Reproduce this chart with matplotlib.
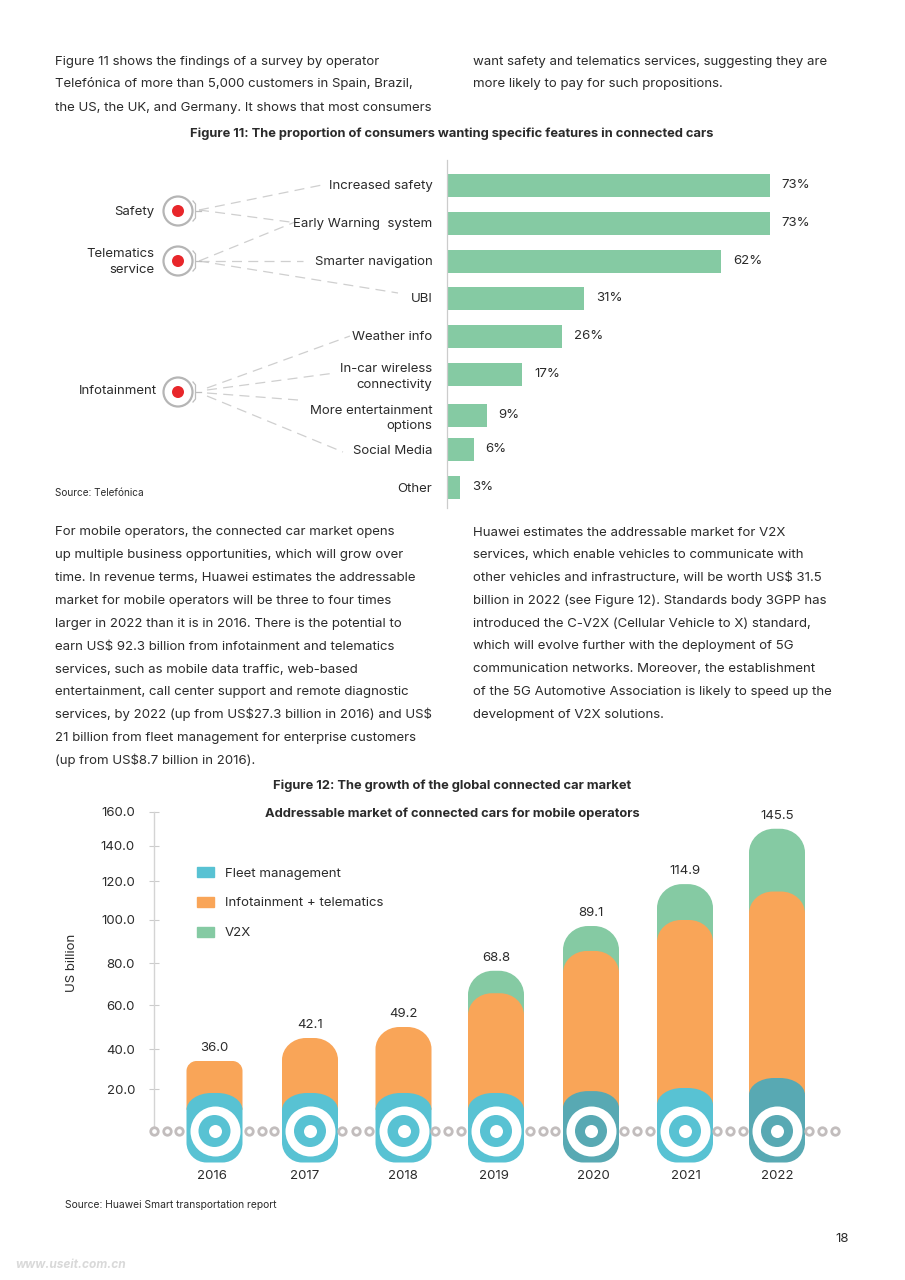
import numpy as np
import matplotlib
matplotlib.use('Agg')
import matplotlib.pyplot as plt
from matplotlib.patches import Circle, Patch, PathPatch
from matplotlib.path import Path

plt.rcParams['font.family'] = ['Inter', 'DejaVu Sans']
plt.rcParams['text.parse_math'] = False

W, H = 905, 1280
INK = '#2b2b2b'
GREEN = '#85CAA3'
ORANGE = '#F9A558'
TEAL = '#58C2D3'
DARK_TEAL = '#58A9B3'

# figure 11 data
features = ['Increased safety', 'Early Warning  system', 'Smarter navigation', 'UBI', 'Weather info',
            'In-car wireless\nconnectivity', 'More entertainment\noptions', 'Social Media', 'Other']
feature_pct = [73, 73, 62, 31, 26, 17, 9, 6, 3]
groups = ['Safety', 'Telematics\nservice', 'Infotainment']

# figure 12 data, segment sizes read against the printed axis
years = ['2016', '2017', '2018', '2019', '2020', '2021', '2022']
totals = [36.0, 42.1, 49.2, 68.8, 89.1, 114.9, 145.5]
fleet = [33.1, 33.1, 33.1, 33.1, 34.0, 35.5, 40.5]
infotainment = [15.9, 26.9, 31.9, 47.5, 66.6, 79.5, 89.1]
v2x = [0, 0, 0, 10.7, 11.6, 18.4, 35.4]
axis_values = [20, 40, 60, 80, 100, 120, 140, 160]

top_left = ['Figure 11 shows the findings of a survey by operator',
            'Telefónica of more than 5,000 customers in Spain, Brazil,',
            'the US, the UK, and Germany. It shows that most consumers']
top_right = ['want safety and telematics services, suggesting they are',
             'more likely to pay for such propositions.']
mid_left = ['For mobile operators, the connected car market opens',
            'up multiple business opportunities, which will grow over',
            'time. In revenue terms, Huawei estimates the addressable',
            'market for mobile operators will be three to four times',
            'larger in 2022 than it is in 2016. There is the potential to',
            'earn US$ 92.3 billion from infotainment and telematics',
            'services, such as mobile data traffic, web-based',
            'entertainment, call center support and remote diagnostic',
            'services, by 2022 (up from US$27.3 billion in 2016) and US$',
            '21 billion from fleet management for enterprise customers',
            '(up from US$8.7 billion in 2016).']
mid_right = ['Huawei estimates the addressable market for V2X',
             'services, which enable vehicles to communicate with',
             'other vehicles and infrastructure, will be worth US$ 31.5',
             'billion in 2022 (see Figure 12). Standards body 3GPP has',
             'introduced the C-V2X (Cellular Vehicle to X) standard,',
             'which will evolve further with the deployment of 5G',
             'communication networks. Moreover, the establishment',
             'of the 5G Automotive Association is likely to speed up the',
             'development of V2X solutions.']

# layout, in page pixels
row_y = [185, 223, 261, 298, 336, 374, 415, 449, 487]
group_y = [211, 261, 392]
group_text_y = [212, 262, 391]
group_text_x = [154, 154, 157]
year_x = [214.5, 310, 403.5, 496, 591, 685, 777]
year_tick_x = [212, 305, 403, 494, 593, 686, 777]
fleet_colors = [TEAL, TEAL, TEAL, TEAL, DARK_TEAL, TEAL, DARK_TEAL]
knot_values = [-20, 0, 20, 40, 60, 80, 100, 120, 140, 160, 175]
knot_pixels = [1173, 1131, 1089, 1049, 1005, 963, 920, 881, 845.5, 812, 786]
dots_x = [154, 166.5, 179, 249, 262, 274, 342, 356, 369, 435, 448, 461, 530, 543, 555,
          624, 637, 650, 717, 730, 743, 809, 822, 835]
leaders = [((199, 210), (322, 185)), ((199, 210), (290, 222)), ((199, 261), (295, 222)),
           ((199, 261), (303, 261)), ((199, 261), (398, 293)), ((207, 388), (350, 336)),
           ((207, 390), (335, 373)), ((207, 393), (298, 400)), ((207, 396), (343, 452))]

BODY = 9.5
BOLD = 9.3
SMALL = 7.2

fig = plt.figure(figsize=(W / 100, H / 100), dpi=100, facecolor='white')


def box(x0, y0, x1, y1):
    # page pixels (y down) to figure fractions
    return [x0 / W, 1 - y1 / H, (x1 - x0) / W, (y1 - y0) / H]


page = fig.add_axes([0, 0, 1, 1], zorder=0)
page.set_xlim(0, W)
page.set_ylim(H, 0)
page.axis('off')


def write(x, y, s, size=BODY, weight='normal', ha='left', color=INK, **kw):
    page.text(x, y + 4.5, s, fontsize=size, fontweight=weight, ha=ha, va='baseline', color=color, **kw)


for lines, x, y0, step in [(top_left, 55, 60, 23), (top_right, 473, 60, 23),
                           (mid_left, 55, 531, 22.85), (mid_right, 473, 531, 22.8)]:
    for i, line in enumerate(lines):
        write(x, y0 + i * step, line)

write(452, 133, 'Figure 11: The proportion of consumers wanting specific features in connected cars',
      size=BOLD, weight='bold', ha='center')
write(452, 784, 'Figure 12: The growth of the global connected car market', size=BOLD, weight='bold', ha='center')
write(55, 491, 'Source: Telefónica', size=SMALL)
write(65, 1203, 'Source: Huawei Smart transportation report', size=SMALL + 0.2)
write(835, 1238, '18')
write(15, 1264, 'www.useit.com.cn', size=8.6, weight='bold', color='#d9d9d9', style='italic')

# figure 11 left hand: leaders, rings and group names
for (a, b) in leaders:
    page.plot([a[0], b[0]], [a[1], b[1]], color='#cfcfcf', lw=0.9, dashes=(8, 5))
for name, y, ty, tx in zip(groups, group_y, group_text_y, group_text_x):
    page.add_patch(Circle((178, y), 14.5, fc='white', ec='#b5b5b5', lw=1.6))
    page.add_patch(Circle((178, y), 6, fc='#E8262A', ec='none'))
    page.plot([193, 195.5, 195.5, 193], [y - 10, y - 7, y + 7, y + 10], color='#bdbdbd', lw=0.9)
    page.plot([196, 201], [y, y], color='#bdbdbd', lw=0.9)
    page.text(tx, ty, name, fontsize=BODY, color=INK, ha='right', va='center', ma='right', linespacing=1.35)

# figure 11 bars
ax1 = fig.add_axes(box(447, 160, 860, 508), zorder=1)
ax1.patch.set_alpha(0)
ax1.set_xlim(0, 413 / 4.42)
ax1.set_ylim(508, 160)
ax1.barh(row_y, feature_pct, height=23, color=GREEN)
for y, v in zip(row_y, feature_pct):
    ax1.annotate(f'{v}%', (v, y), xytext=(8.6, 0), textcoords='offset points', va='center', fontsize=BODY, color=INK)
ax1.set_yticks(row_y, features, fontsize=BODY, color=INK, linespacing=1.35, ma='right')
ax1.tick_params(axis='y', length=0, pad=10.5)
ax1.set_xticks([])
for side in ['top', 'right', 'bottom']:
    ax1.spines[side].set_visible(False)
ax1.spines['left'].set_color('#cccccc')
ax1.spines['left'].set_linewidth(0.9)

# figure 12, the printed axis is not evenly spaced so it gets its own scale
vals = np.array(knot_values, dtype=float)
pix = np.array(knot_pixels, dtype=float)


def to_pix(v):
    return np.interp(v, vals, pix)


def forward(v):
    return -np.interp(v, vals, pix)


def inverse(p):
    return np.interp(p, -pix, vals)


ax2 = fig.add_axes(box(154, 800, 865, 1165), zorder=1)
ax2.patch.set_alpha(0)
ax2.set_xlim(154, 865)
ax2.set_yscale('function', functions=(forward, inverse))
ax2.set_ylim(inverse(-1165.0), inverse(-800.0))

BASE = -15.0


def rounded_bar(x, top, color, rx_top, ry_top, z, base=BASE, r_bottom=0, width=56):
    # y radius is given in pixels, so move along the scale to get data units
    yc = inverse(-(to_pix(top) + ry_top))
    yb = inverse(-(to_pix(base) - r_bottom))
    l, r = x - width / 2, x + width / 2
    k = 0.5523
    yk_top = inverse(-(to_pix(top) + ry_top * (1 - k)))
    verts = [(l, base if r_bottom == 0 else yb), (l, yc),
             (l, yk_top), (l + rx_top * (1 - k), top), (l + rx_top, top),
             (r - rx_top, top),
             (r - rx_top * (1 - k), top), (r, yk_top), (r, yc)]
    codes = [Path.MOVETO, Path.LINETO, Path.CURVE4, Path.CURVE4, Path.CURVE4, Path.LINETO,
             Path.CURVE4, Path.CURVE4, Path.CURVE4]
    if r_bottom:
        yk_b = inverse(-(to_pix(base) - r_bottom * (1 - k)))
        verts += [(r, yb), (r, yk_b), (r - r_bottom * (1 - k), base), (r - r_bottom, base),
                  (l + r_bottom, base), (l + r_bottom * (1 - k), base), (l, yk_b), (l, yb)]
        codes += [Path.LINETO, Path.CURVE4, Path.CURVE4, Path.CURVE4, Path.LINETO,
                  Path.CURVE4, Path.CURVE4, Path.CURVE4]
    else:
        verts += [(r, base), (l, base)]
        codes += [Path.LINETO, Path.LINETO]
    verts.append(verts[0])
    codes.append(Path.CLOSEPOLY)
    ax2.add_patch(PathPatch(Path(verts, codes), fc=color, ec='none', zorder=z))


fleet_top = BASE + np.array(fleet)
info_top = fleet_top + np.array(infotainment)
v2x_top = info_top + np.array(v2x)

for i, x in enumerate(year_x):
    if v2x[i] > 0:
        rounded_bar(x, v2x_top[i], GREEN, 25, 24, 2, base=fleet_top[i] - 8)
    short = i == 0
    rounded_bar(x, info_top[i], ORANGE, 10 if short else 24, 10 if short else 22, 3, base=fleet_top[i] - 8)
    rounded_bar(x, fleet_top[i], fleet_colors[i], 25, 17, 4, r_bottom=20)
    ax2.annotate(f'{totals[i]:.1f}', (x, max(v2x_top[i], info_top[i])), xytext=(0, 9.2),
                 textcoords='offset points', ha='center', va='center', fontsize=BODY, color=INK)

zero = [0] * len(year_x)
ax2.scatter(year_x, zero, s=(50 * 0.72) ** 2, color='white', linewidths=0, zorder=5)
ax2.scatter(year_x, zero, s=(32 * 0.72) ** 2, c=fleet_colors, linewidths=0, zorder=6)
ax2.scatter(year_x, zero, s=(13 * 0.72) ** 2, color='white', linewidths=0, zorder=7)
ax2.scatter(dots_x, [0] * len(dots_x), s=(7.5 * 0.72) ** 2, facecolor='white', edgecolor='#c2bdbd',
            linewidths=2.0, zorder=5, clip_on=False)

ax2.set_yticks(axis_values, [f'{v:.1f}' for v in axis_values], fontsize=BODY, color=INK)
ax2.minorticks_off()
ax2.tick_params(axis='y', direction='inout', length=6.5, width=0.8, color='#cccccc', pad=10.5)
ax2.set_xticks(year_tick_x, years, fontsize=BODY, color=INK)
ax2.tick_params(axis='x', length=0, pad=3.5)
for side in ['top', 'right', 'bottom']:
    ax2.spines[side].set_visible(False)
ax2.spines['left'].set_bounds(0, 160)
ax2.spines['left'].set_color('#d4d4d4')
ax2.spines['left'].set_linewidth(1.0)

legend = ax2.legend(handles=[Patch(color=TEAL, label='Fleet management'),
                             Patch(color=ORANGE, label='Infotainment + telematics'),
                             Patch(color=GREEN, label='V2X')],
                    loc='upper left', bbox_to_anchor=(197 / W, 1 - 867 / H), bbox_transform=fig.transFigure,
                    frameon=False, fontsize=BODY, labelspacing=1.3, handlelength=1.3, handleheight=0.8,
                    handletextpad=0.8, borderpad=0, borderaxespad=0, labelcolor=INK)

ax2.text(452, 814, 'Addressable market of connected cars for mobile operators', fontsize=BOLD, fontweight='bold',
         color=INK, ha='center', va='center', transform=page.transData)
ax2.text(71.5, 963, 'US billion', fontsize=BODY, color=INK, rotation=90, ha='center', va='center',
         transform=page.transData)

fig.savefig('out.png', dpi=100)
